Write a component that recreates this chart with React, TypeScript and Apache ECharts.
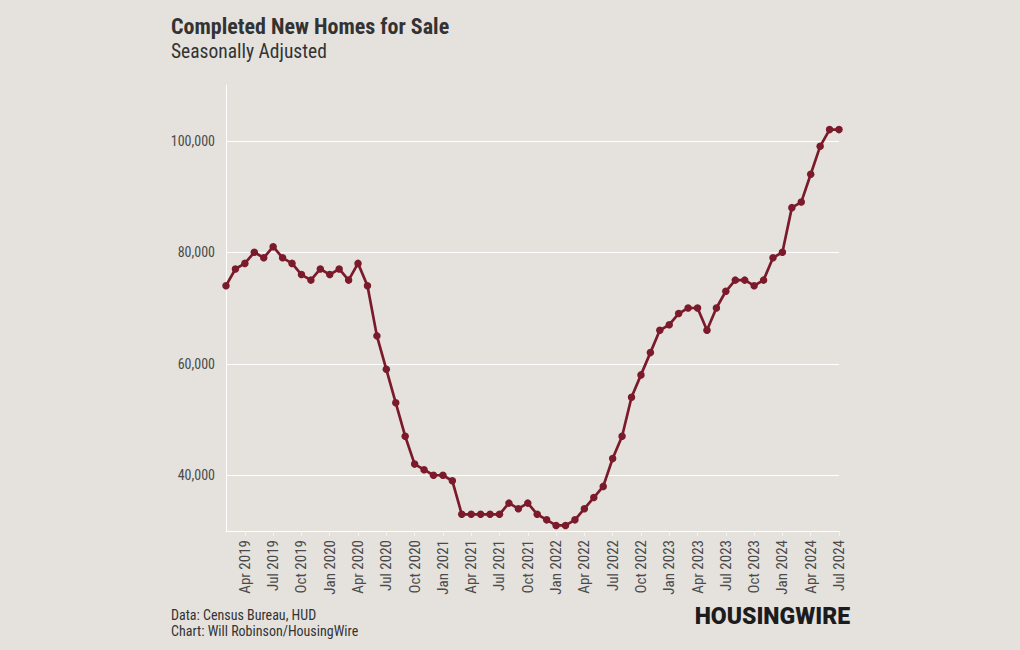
import React, { useEffect, useRef } from "react";
import * as echarts from "echarts";

const months = ["Jan", "Feb", "Mar", "Apr", "May", "Jun", "Jul", "Aug", "Sep", "Oct", "Nov", "Dec"];

// Feb 2019 .. Jul 2024, thousands of units
const values2019 = [74, 77, 78, 80, 79, 81, 79, 78, 76, 75, 77]; // Feb-Dec
const values2020 = [76, 77, 75, 78, 74, 65, 59, 53, 47, 42, 41, 40];
const values2021 = [40, 39, 33, 33, 33, 33, 33, 35, 34, 35, 33, 32];
const values2022 = [31, 31, 32, 34, 36, 38, 43, 47, 54, 58, 62, 66];
const values2023 = [67, 69, 70, 70, 66, 70, 73, 75, 75, 74, 75, 79];
const values2024 = [80, 88, 89, 94, 99, 102, 102]; // Jan-Jul

const yTicks = [40000, 60000, 80000, 100000];

const FONT = "'Roboto Condensed', 'Liberation Sans Narrow', 'Arial Narrow', 'DejaVu Sans Condensed', Roboto, sans-serif";

function buildCategories(): string[] {
  const cats: string[] = [];
  for (let y = 2019; y <= 2024; y++) {
    const start = y === 2019 ? 1 : 0;
    const end = y === 2024 ? 6 : 11;
    for (let m = start; m <= end; m++) cats.push(months[m] + " " + y);
  }
  return cats;
}

export default function App() {
  const ref = useRef<HTMLDivElement>(null);
  useEffect(() => {
    if (!ref.current) return;
    const chart = echarts.init(ref.current, undefined, { renderer: "svg" });
    const categories = buildCategories();
    const data = [...values2019, ...values2020, ...values2021, ...values2022, ...values2023, ...values2024].map(
      (v) => v * 1000
    );
    const quarterly = (idx: number) => {
      const m = categories[idx].split(" ")[0];
      return m === "Jan" || m === "Apr" || m === "Jul" || m === "Oct";
    };
    chart.setOption({
      animation: false,
      backgroundColor: "#e5e2de",
      textStyle: { fontFamily: FONT },
      grid: { left: 226, right: 181, top: 85, bottom: 119, containLabel: false },
      xAxis: {
        type: "category",
        boundaryGap: false,
        data: categories,
        axisLine: { show: true, lineStyle: { color: "#ffffff", width: 1 } },
        axisTick: {
          show: true,
          interval: (i: number) => quarterly(i),
          length: 5,
          lineStyle: { color: "#f4f2ef" },
        },
        axisLabel: {
          interval: (i: number) => quarterly(i),
          rotate: 90,
          color: "#4a4a4a",
          fontSize: 15,
          fontFamily: FONT,
          margin: 9,
        },
        splitLine: { show: false },
      },
      yAxis: {
        type: "value",
        min: 30000,
        max: 110000,
        interval: 10000,
        axisLine: { show: true, lineStyle: { color: "#ffffff", width: 1 } },
        axisTick: { show: false },
        axisLabel: {
          color: "#4a4a4a",
          fontSize: 14,
          fontFamily: FONT,
          margin: 11,
          formatter: (v: number) => (yTicks.includes(v) ? v.toLocaleString("en-US") : ""),
        },
        splitLine: {
          show: true,
          lineStyle: { color: ["rgba(0,0,0,0)", "#ffffff"], width: 1 },
        },
      },
      title: {
        text: "Completed New Homes for Sale",
        subtext: "Seasonally Adjusted",
        left: 166,
        top: 10,
        itemGap: 4,
        textStyle: { fontFamily: FONT, fontSize: 22, fontWeight: "bold", color: "#333333" },
        subtextStyle: { fontFamily: FONT, fontSize: 19.5, color: "#333333" },
      },
      graphic: [
        {
          type: "text",
          left: 171,
          top: 607,
          style: {
            text: "Data: Census Bureau, HUD\nChart: Will Robinson/HousingWire",
            font: "14px " + FONT,
            fill: "#333333",
            lineHeight: 16,
          },
        },
        {
          type: "text",
          right: 170,
          top: 605,
          style: {
            text: "HOUSINGWIRE",
            font: "900 23px Roboto, 'Noto Sans', sans-serif",
            fill: "#1c1c1c",
          },
        },
      ],
      series: [
        {
          type: "line",
          data,
          symbol: "circle",
          symbolSize: 7.5,
          showSymbol: true,
          showAllSymbol: true,
          lineStyle: { color: "#7b1a2a", width: 2.7 },
          itemStyle: { color: "#7b1a2a" },
        },
      ],
    });
    return () => chart.dispose();
  }, []);
  return <div ref={ref} style={{ position: "fixed", left: 0, top: 0, width: 1020, height: 650 }} />;
}
